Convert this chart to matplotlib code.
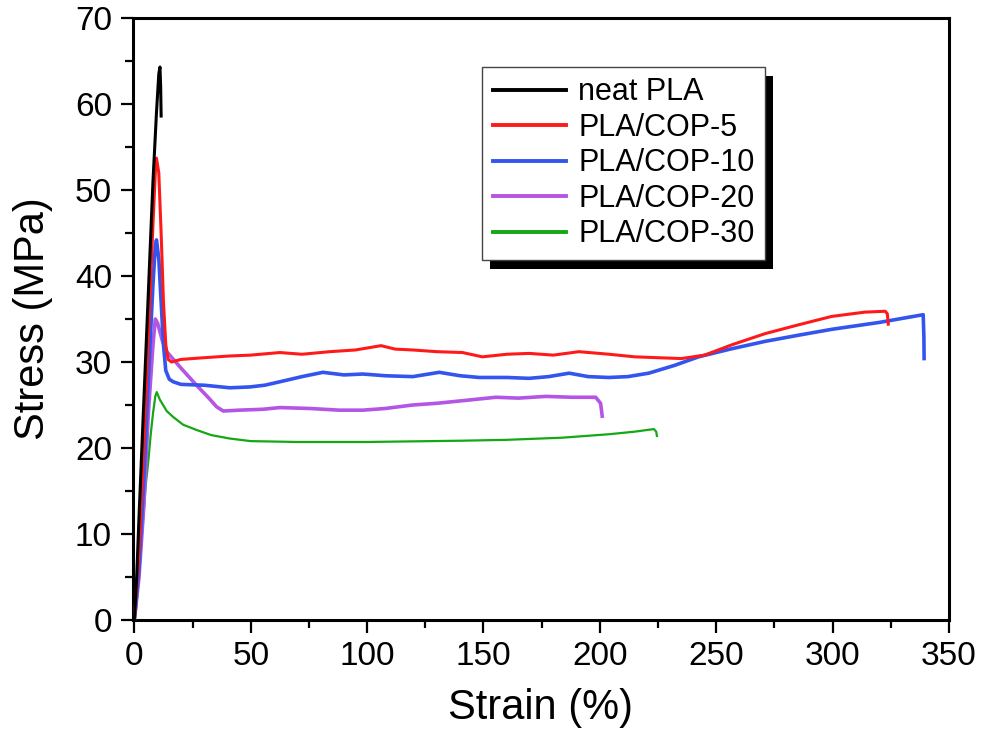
import numpy as np
import matplotlib
matplotlib.use("Agg")
import matplotlib.pyplot as plt
from matplotlib.patches import Rectangle

plt.rcParams['font.family'] = ['Liberation Sans', 'DejaVu Sans']

# strain (%) / stress (MPa)
neat_x = [0, 1, 2, 4, 6, 8, 9.5, 10.5, 11.0, 11.3, 11.5]
neat_y = [0, 5, 12, 25, 38, 51, 59, 63.5, 64.3, 62, 58.6]

cop5_x = [0, 2, 4, 6, 8, 9, 9.5, 10.5, 11.5, 12.5, 13.5, 14.5, 16, 20, 30, 41, 50, 62.5, 72, 84,
          95, 106, 112, 119.5, 130, 141, 149.5, 160, 169.6, 180, 191, 204, 215, 225, 235, 245,
          256.7, 271, 285, 299.6, 313.9, 322.6, 323.5, 323.9]
cop5_y = [0, 8, 20, 33, 46, 52, 53.7, 52, 45, 37, 32, 30.3, 30.0, 30.3, 30.5, 30.7, 30.8, 31.1,
          30.9, 31.2, 31.4, 31.9, 31.5, 31.4, 31.2, 31.1, 30.6, 30.9, 31.0, 30.8, 31.2, 30.9, 30.6,
          30.5, 30.4, 30.8, 32.0, 33.3, 34.3, 35.3, 35.8, 35.9, 35.6, 34.4]

cop10_x = [0, 2, 4, 6, 8, 9, 9.5, 10.5, 11.5, 12.5, 13.5, 15, 16.7, 20, 30, 41, 49.6, 56, 62.5,
           72, 81, 90, 98.2, 108, 119.6, 131, 140, 148.2, 160, 169.6, 178, 186.8, 195, 203.9,
           212, 221, 232, 242.4, 256, 271, 285, 299.6, 320, 338.9, 339.2, 339.3]
cop10_y = [0, 6, 16, 28, 39, 43.5, 44.2, 42, 37, 32, 29, 28, 27.7, 27.4, 27.3, 27.0, 27.1, 27.3,
           27.7, 28.3, 28.8, 28.5, 28.6, 28.4, 28.3, 28.8, 28.4, 28.2, 28.2, 28.1, 28.3, 28.7,
           28.3, 28.2, 28.3, 28.7, 29.6, 30.6, 31.5, 32.4, 33.1, 33.8, 34.6, 35.5, 33, 30.4]

cop20_x = [0, 2, 4, 6, 8, 9, 10, 12, 13.9, 20, 26.7, 32, 35.3, 38.2, 45, 55, 62.5, 75, 88, 98.2,
           108, 119.6, 130, 141, 155.3, 165, 176.8, 188, 198.2, 200.3, 201]
cop20_y = [0, 5, 13, 24, 32, 35, 34.5, 32.5, 31.2, 29.3, 27.3, 25.8, 24.8, 24.3, 24.4, 24.5, 24.7,
           24.6, 24.4, 24.4, 24.6, 25.0, 25.2, 25.5, 25.9, 25.8, 26.0, 25.9, 25.9, 25.2, 23.7]

cop30_x = [0, 1, 2, 3, 4, 5, 6, 7, 8, 9, 9.6, 11, 13.9, 16.7, 21, 26.7, 33, 41, 50, 69.6, 100,
           141, 160, 183.9, 203.9, 215, 223.2, 224.2, 224.5]
cop30_y = [0, 2, 5, 9, 12.5, 16, 18.5, 21.5, 24, 26, 26.5, 25.6, 24.3, 23.6, 22.7, 22.1, 21.5,
           21.1, 20.8, 20.7, 20.7, 20.85, 20.95, 21.2, 21.6, 21.9, 22.2, 21.9, 21.4]

labels = ['neat PLA', 'PLA/COP-5', 'PLA/COP-10', 'PLA/COP-20', 'PLA/COP-30']
colors = ['#000000', '#ff1a1a', '#3355ee', '#b455e6', '#14a814']
widths = [2.2, 2.2, 2.6, 2.6, 1.6]

fig = plt.figure(figsize=(9.81, 7.41), dpi=100)
ax = fig.add_axes([0.1353, 0.1633, 0.8321, 0.8124])

series = [(neat_x, neat_y), (cop5_x, cop5_y), (cop10_x, cop10_y),
          (cop20_x, cop20_y), (cop30_x, cop30_y)]
# draw green first so the stiffer curves sit on top like in the original
for i in [4, 3, 2, 1, 0]:
    xs, ys = series[i]
    ax.plot(xs, ys, color=colors[i], lw=widths[i], label=labels[i], zorder=3 + (4 - i) * 0.1)

ax.set_xlim(-0.7, 349.3)
ax.set_ylim(0, 70)
ax.set_xticks(np.arange(0, 351, 50))
ax.set_yticks(np.arange(0, 71, 10))
ax.set_xticks(np.arange(25, 350, 50), minor=True)
ax.set_yticks(np.arange(5, 70, 10), minor=True)
ax.tick_params(which='both', direction='out', width=1.6, labelsize=24, pad=6,
               top=False, right=False)
ax.tick_params(which='major', length=9)
ax.tick_params(which='minor', length=5.5)
for s in ax.spines.values():
    s.set_linewidth(2.2)

ax.set_xlabel('Strain (%)', fontsize=30, labelpad=12)
ax.set_ylabel('Stress (MPa)', fontsize=30, labelpad=16)

handles, labs = ax.get_legend_handles_labels()
order = [labs.index(l) for l in labels]
leg = ax.legend([handles[k] for k in order], labels, loc='upper left',
                bbox_to_anchor=(0.428, 0.919), borderaxespad=0, fontsize=22,
                frameon=True, fancybox=False, handlelength=2.4, handletextpad=0.4,
                labelspacing=0.18, borderpad=0.35)
leg.get_frame().set_edgecolor('#444444')
leg.get_frame().set_linewidth(1.0)
leg.get_frame().set_alpha(1)
for h in leg.get_lines():
    h.set_linewidth(2.8)

# offset black shadow behind the legend box
fig.canvas.draw()
bb = leg.get_window_extent()
W, H = fig.get_size_inches() * fig.dpi
shadow = Rectangle(((bb.x0 + 8) / W, (bb.y0 - 9) / H), bb.width / W, bb.height / H,
                   transform=fig.transFigure, facecolor='black', edgecolor='none', zorder=4)
ax.add_artist(shadow)
shadow.set_clip_on(False)
leg.set_zorder(5)

fig.savefig('out.png', dpi=100)
